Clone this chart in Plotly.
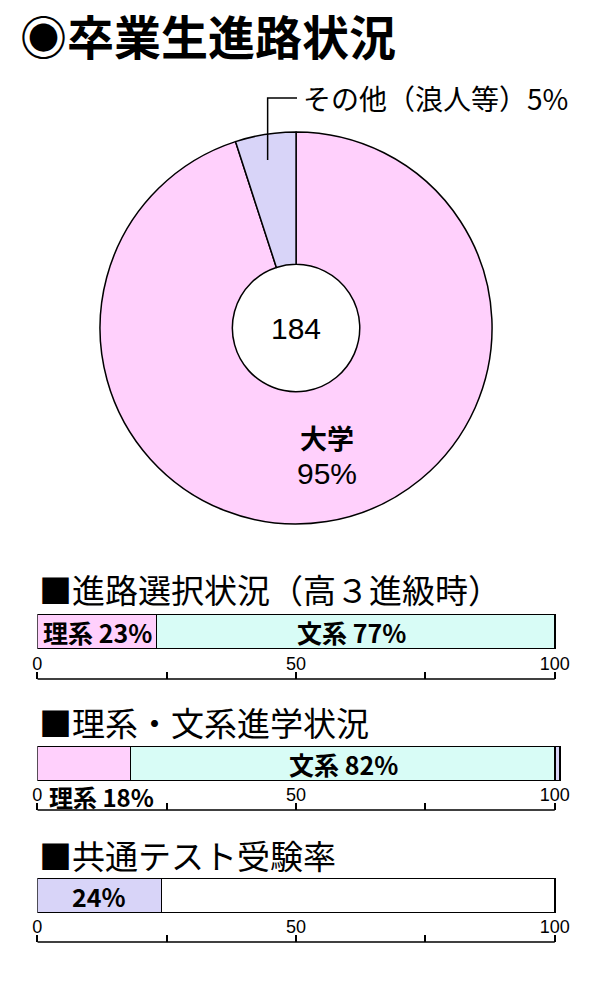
import plotly.graph_objs as go

# 卒業生進路状況
pie_labels = ['大学', 'その他（浪人等）']
pie_values = [95, 5]
pie_total = 184

# 進路選択状況（高3進級時）
choice_labels = ['理系', '文系']
choice_values = [23, 77]

# 理系・文系進学状況
entry_labels = ['理系', '文系', 'その他']
entry_values = [18, 82, 1]

# 共通テスト受験率
test_labels = ['受験', '未受験']
test_values = [24, 76]

tick_vals = [0, 25, 50, 75, 100]
tick_text = ['0', '', '50', '', '100']

PINK = '#ffd0fc'
CYAN = '#d8fcf6'
LAV = '#d8d4f8'
JP = 'Noto Sans CJK JP'
NUM = 'Liberation Sans'

W, H = 600, 1000


def pxx(x):
    return x / W


def pxy(y):
    return 1 - y / H


fig = go.Figure()

fig.add_trace(go.Pie(
    labels=pie_labels,
    values=pie_values,
    hole=0.325,
    sort=False,
    direction='clockwise',
    rotation=0,
    marker=dict(colors=[PINK, LAV], line=dict(color='black', width=1.5)),
    textinfo='none',
    domain=dict(x=[pxx(97), pxx(497)], y=[pxy(528), pxy(128)]),
))

rows = [
    ('2', choice_labels, choice_values, [PINK, CYAN]),
    ('3', entry_labels, entry_values, [PINK, CYAN, LAV]),
    ('4', test_labels, test_values, [LAV, 'white']),
]
for n, labels, values, colors in rows:
    for lab, val, col in zip(labels, values, colors):
        fig.add_trace(go.Bar(
            x=[val], y=[0], orientation='h', name=lab,
            width=1,
            marker=dict(color=col, line=dict(color='black', width=1.5)),
            xaxis='x' + n, yaxis='y' + n,
            hoverinfo='name+x',
        ))

layout = dict(
    width=W, height=H,
    margin=dict(l=0, r=0, t=0, b=0),
    paper_bgcolor='white', plot_bgcolor='white',
    showlegend=False,
    barmode='stack',
)

bar_top = [614, 746, 878]
bar_bot = [649, 781, 913]
base_y = [679, 810, 942]
shapes = []
for i, n in enumerate(['2', '3', '4']):
    layout['yaxis' + n] = dict(
        domain=[pxy(bar_bot[i]), pxy(bar_top[i])],
        range=[-0.5, 0.5], visible=False, fixedrange=True,
    )
    layout['xaxis' + n] = dict(
        domain=[pxx(33), pxx(33 + 528 * 1.015)],
        range=[0, 101.5],
        anchor='free', position=pxy(base_y[i]), side='top',
        tickvals=tick_vals, ticktext=tick_text,
        ticks='outside', ticklen=7, tickwidth=1.5, tickcolor='black',
        ticklabelstandoff=-5,
        tickfont=dict(family=NUM, size=18, color='black'),
        showline=False, showgrid=False, zeroline=False, fixedrange=True,
    )
    shapes.append(dict(
        type='line', xref='x' + n, yref='paper',
        x0=0, x1=100, y0=pxy(base_y[i]), y1=pxy(base_y[i]),
        line=dict(color='black', width=1.5),
    ))

# leader line for その他
shapes.append(dict(
    type='path', xref='paper', yref='paper',
    path='M %f,%f L %f,%f L %f,%f' % (pxx(298), pxy(98), pxx(268), pxy(98),
                                      pxx(268), pxy(160)),
    line=dict(color='black', width=1.5),
))
layout['shapes'] = shapes


def note(text, x, y, size, bold=False, family=JP, xanchor='center'):
    if bold:
        text = '<b>' + text + '</b>'
    return dict(text=text, x=pxx(x), y=pxy(y), xref='paper', yref='paper',
                xanchor=xanchor, yanchor='middle', showarrow=False,
                font=dict(family=family, size=size, color='black'))


annotations = [
    note('◉卒業生進路状況', 13, 34, 47, bold=True, xanchor='left'),
    note('%s%d%%' % (pie_labels[1], pie_values[1]), 302, 98, 28, xanchor='left'),
    note(str(pie_total), 297, 328, 30, family=NUM),
    note('<b>%s</b><br><span style="font-family:%s;font-size:30px">%d%%</span>'
         % (pie_labels[0], NUM, pie_values[0]), 329, 454, 27),
    note('■進路選択状況（高３進級時）', 33, 589, 33, xanchor='left'),
    note('%s %d%%' % (choice_labels[0], choice_values[0]), 94, 632, 25, bold=True),
    note('%s %d%%' % (choice_labels[1], choice_values[1]), 354, 632, 25, bold=True),
    note('■理系・文系進学状況', 33, 722, 33, xanchor='left'),
    note('%s %d%%' % (entry_labels[0], entry_values[0]), 98, 796, 24, bold=True),
    note('%s %d%%' % (entry_labels[1], entry_values[1]), 345, 764, 25, bold=True),
    note('■共通テスト受験率', 33, 855, 33, xanchor='left'),
    note('%d%%' % test_values[0], 96, 896, 25, bold=True),
]
layout['annotations'] = annotations

fig.update_layout(layout)
# drop the browser's default 8px body margin so the figure sits at (0, 0)
fig.write_html('out.html', config={'displayModeBar': False},
               post_script="document.body.style.margin='0';")
